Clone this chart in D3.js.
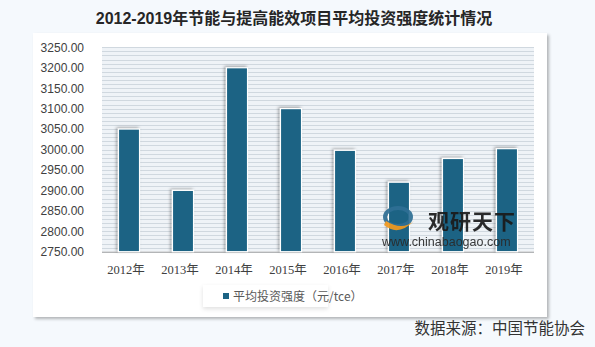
<!DOCTYPE html>
<html><head><meta charset="utf-8">
<script src="https://cdn.jsdelivr.net/npm/d3@7"></script>
<style>
body{margin:0;background:#f5f9fd;}
svg{display:block;}
</style></head>
<body>
<script>
const categories = ["2012年","2013年","2014年","2015年","2016年","2017年","2018年","2019年"];
const values = [3050, 2900, 3200, 3100, 2998, 2920, 2978, 3002];
const yTicks = [2750,2800,2850,2900,2950,3000,3050,3100,3150,3200,3250];
const title = "2012-2019年节能与提高能效项目平均投资强度统计情况";
const seriesName = "平均投资强度（元/tce）";
const source = "数据来源：中国节能协会";

const W = 595, H = 347;
const svg = d3.select("body").append("svg").attr("width", W).attr("height", H);
const defs = svg.append("defs");

const sh = defs.append("filter").attr("id","panelShadow").attr("x","-5%").attr("y","-5%").attr("width","115%").attr("height","115%");
sh.append("feDropShadow").attr("dx",2).attr("dy",2).attr("stdDeviation",1.6).attr("flood-color","#000").attr("flood-opacity",0.28);

const bs = defs.append("filter").attr("id","barShadow").attr("x","-50%").attr("y","-10%").attr("width","200%").attr("height","120%");
bs.append("feDropShadow").attr("dx",-1.5).attr("dy",-1).attr("stdDeviation",1.5).attr("flood-color","#000").attr("flood-opacity",0.35);

const ls = defs.append("filter").attr("id","legShadow").attr("x","-10%").attr("y","-30%").attr("width","120%").attr("height","170%");
ls.append("feDropShadow").attr("dx",0).attr("dy",2).attr("stdDeviation",2).attr("flood-color","#000").attr("flood-opacity",0.12);

// title
svg.append("text").attr("x", 294).attr("y", 24).attr("text-anchor","middle")
  .attr("font-family","'Liberation Sans','Noto Sans CJK SC',sans-serif")
  .attr("font-size",16).attr("font-weight","bold").attr("fill","#262626").text(title);

// panel
svg.append("rect").attr("x",33).attr("y",33).attr("width",514).attr("height",284)
  .attr("fill","#fff").attr("filter","url(#panelShadow)");

const plot = {left:102, right:534, top:47.3, bottom:251.7};
const x = d3.scaleBand().domain(categories).range([plot.left, plot.right]).paddingInner(0.61).paddingOuter(0.305);
const y = d3.scaleLinear().domain([2750, 3250]).range([plot.bottom, plot.top]);

// plot background with minor gridlines
svg.append("rect").attr("x",plot.left).attr("y",plot.top).attr("width",plot.right-plot.left).attr("height",plot.bottom-plot.top)
  .attr("fill","#eff3f7");
svg.append("g").selectAll("line").data(d3.range(2750, 3251, 10)).join("line")
  .attr("x1",plot.left).attr("x2",plot.right)
  .attr("y1",d=>Math.round(y(d))+0.5).attr("y2",d=>Math.round(y(d))+0.5)
  .attr("stroke","#d0d8df").attr("stroke-width",1);

// y axis
const yAxis = svg.append("g").attr("transform",`translate(${plot.left-15},0)`)
  .call(d3.axisLeft(y).tickValues(yTicks).tickFormat(d3.format(".2f")).tickSize(0));
yAxis.select(".domain").remove();
yAxis.selectAll("text").attr("font-family","'Liberation Sans',Arial,sans-serif").attr("font-size",12).attr("fill","#404040");

// x axis line
svg.append("line").attr("x1",plot.left).attr("x2",plot.right).attr("y1",plot.bottom+0.5).attr("y2",plot.bottom+0.5)
  .attr("stroke","#a6a6a6").attr("stroke-width",1);

const xAxis = svg.append("g").attr("transform",`translate(0,${plot.bottom+10})`)
  .call(d3.axisBottom(x).tickSize(0));
xAxis.select(".domain").remove();
xAxis.selectAll("text").attr("font-family","'Liberation Serif','Noto Sans CJK SC',serif").attr("font-size",12.5).attr("fill","#404040").attr("dx",-3);

// bars
svg.append("g").selectAll("rect").data(values).join("rect")
  .attr("x",(d,i)=>x(categories[i])).attr("width",x.bandwidth())
  .attr("y",d=>y(d)).attr("height",d=>y(2750)-y(d))
  .attr("fill","#1b6384").attr("stroke","#fff").attr("stroke-width",1.2)
  .attr("filter","url(#barShadow)");

// watermark
const wm = svg.append("g").attr("opacity",0.92);
wm.append("ellipse").attr("cx",398).attr("cy",217).attr("rx",13).attr("ry",9).attr("fill","none").attr("stroke","#2f6f95").attr("stroke-width",4);
wm.append("path").attr("d","M384,225 Q398,237 414,221 Q402,231 386,221 Z").attr("fill","#f29a1f");
wm.append("text").attr("x",428).attr("y",229).attr("font-family","'Noto Sans CJK SC',sans-serif").attr("font-size",21).attr("font-weight","bold").attr("fill","#1a1a1a").attr("letter-spacing",1).text("观研天下");
wm.append("text").attr("x",382).attr("y",246).attr("font-family","'Liberation Sans',Arial,sans-serif").attr("font-size",12.5).attr("fill","#2a2a2a").text("www.chinabaogao.com");

// legend
svg.append("rect").attr("x",203).attr("y",285).attr("width",125).attr("height",22).attr("fill","#fff").attr("filter","url(#legShadow)");
svg.append("rect").attr("x",223).attr("y",293).attr("width",6).attr("height",6).attr("fill","#1b6384");
svg.append("text").attr("x",233).attr("y",301).attr("font-family","'Noto Sans CJK SC',sans-serif").attr("font-size",12).attr("fill","#595959").text(seriesName);

// source
svg.append("text").attr("x",585).attr("y",334).attr("text-anchor","end")
  .attr("font-family","'Noto Sans CJK SC',sans-serif").attr("font-size",15.5).attr("fill","#333").text(source);
</script>
</body></html>
